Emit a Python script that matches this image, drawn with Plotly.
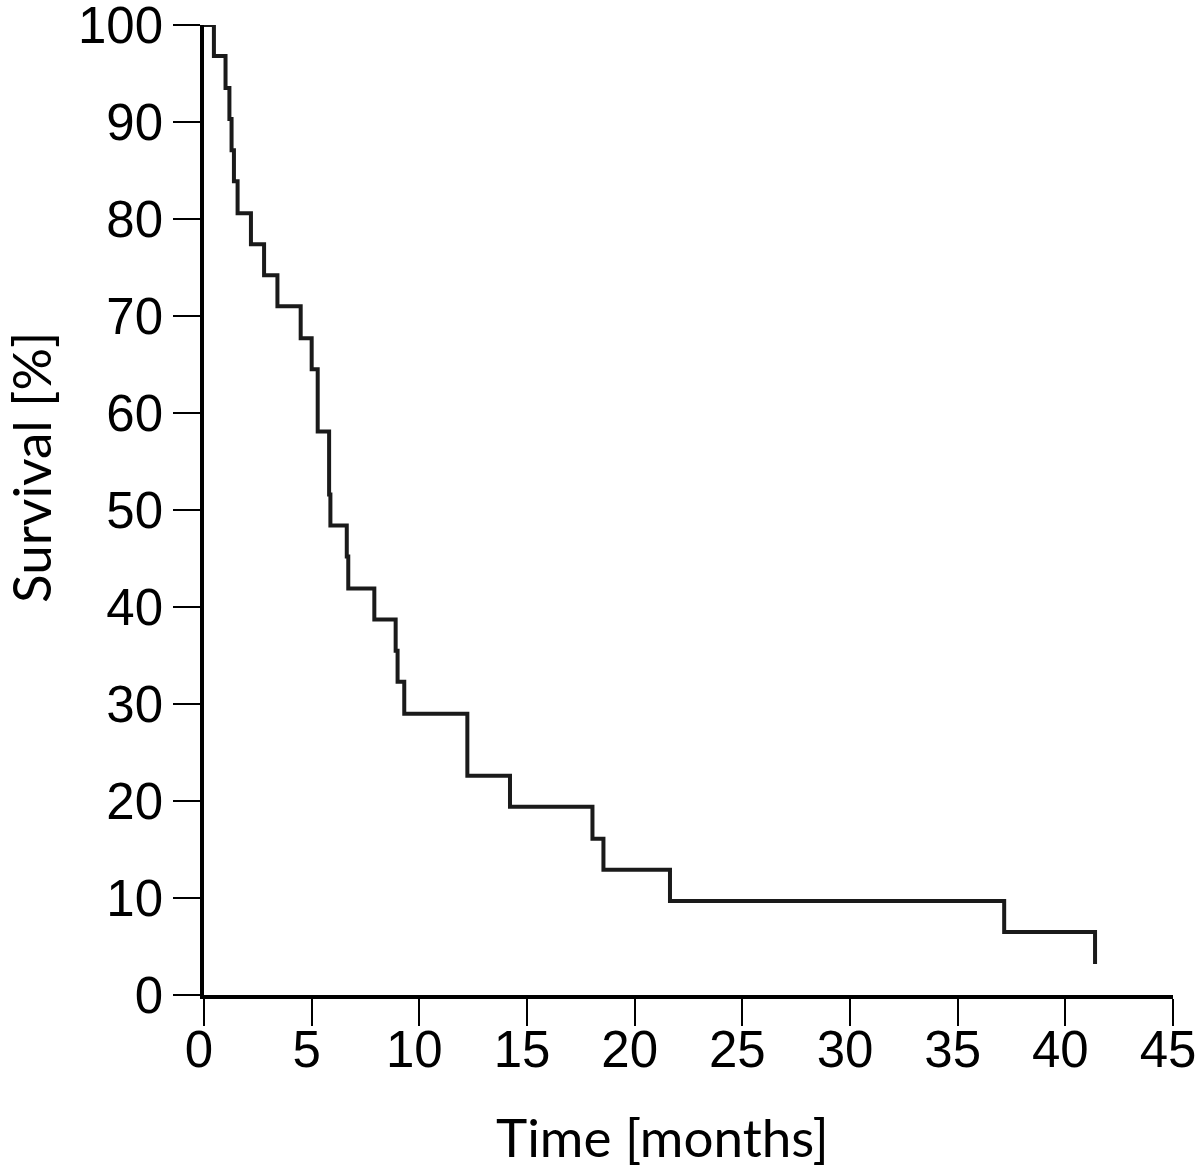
import plotly.graph_objects as go

# Kaplan-Meier steps (months, % surviving after each event)
event_months = [0, 0.46, 1.0, 1.18, 1.28, 1.39, 1.56, 2.18, 2.79, 3.41, 4.49,
                5.0, 5.28, 5.81, 5.87, 6.63, 6.70, 7.91, 8.9, 8.99, 9.3,
                12.23, 14.21, 18.04, 18.55, 21.64, 37.16, 41.38]
survival_pct = [100, 96.8, 93.5, 90.3, 87.1, 83.9, 80.6, 77.4, 74.2, 71.0, 67.7,
                64.5, 58.1, 51.6, 48.4, 45.2, 41.9, 38.7, 35.5, 32.3, 29.0,
                22.6, 19.4, 16.1, 12.9, 9.7, 6.5, 3.2]

x_ticks = [0, 5, 10, 15, 20, 25, 30, 35, 40, 45]
y_ticks = [0, 10, 20, 30, 40, 50, 60, 70, 80, 90, 100]

# plot box in page pixels
L, T, W, H = 204, 25, 969, 970
FIG_W, FIG_H = 1200, 1168


def to_paper(px, py):
    # page pixel -> paper coords
    return (px - L) / W, (T + H - py) / H


fig = go.Figure()
fig.add_trace(go.Scatter(
    x=event_months,
    y=survival_pct,
    mode='lines',
    line=dict(shape='hv', color='#1a1a1a', width=4),
    showlegend=False,
    hoverinfo='x+y'
))

tick_font = dict(family='Liberation Sans, Arial, sans-serif', size=51, color='black')
title_font = dict(family='Lato, Open Sans, sans-serif', size=53, color='black')

axis_common = dict(
    ticks='outside', ticklen=27, tickwidth=2, tickcolor='black',
    showline=True, linewidth=3.5, linecolor='black',
    tickfont=tick_font, ticklabeloverflow='allow',
    showgrid=False, zeroline=False, automargin=False,
)

fig.update_layout(
    width=FIG_W,
    height=FIG_H,
    template='simple_white',
    plot_bgcolor='white',
    paper_bgcolor='white',
    margin=dict(l=L, r=FIG_W - L - W, t=T, b=FIG_H - T - H),
    xaxis=dict(range=[0, 45], tickvals=x_ticks, ticklabelstandoff=-20,
               ticklabelshift=-5, **axis_common),
    yaxis=dict(range=[0, 100], tickvals=y_ticks, **axis_common),
)

xt = to_paper(662, 1136)
yt = to_paper(30, 468)
fig.add_annotation(text='Time [months]', x=xt[0], y=xt[1], xref='paper', yref='paper',
                   xanchor='center', yanchor='middle', showarrow=False, font=title_font)
fig.add_annotation(text='Survival [%]', x=yt[0], y=yt[1], xref='paper', yref='paper',
                   xanchor='center', yanchor='middle', showarrow=False, font=title_font,
                   textangle=-90)

# drop the default 8px body margin so the figure fills the window exactly
fig.write_html("out.html",
               config={'displayModeBar': False},
               post_script="document.body.style.margin='0';"
                           "document.body.style.overflow='hidden';")
